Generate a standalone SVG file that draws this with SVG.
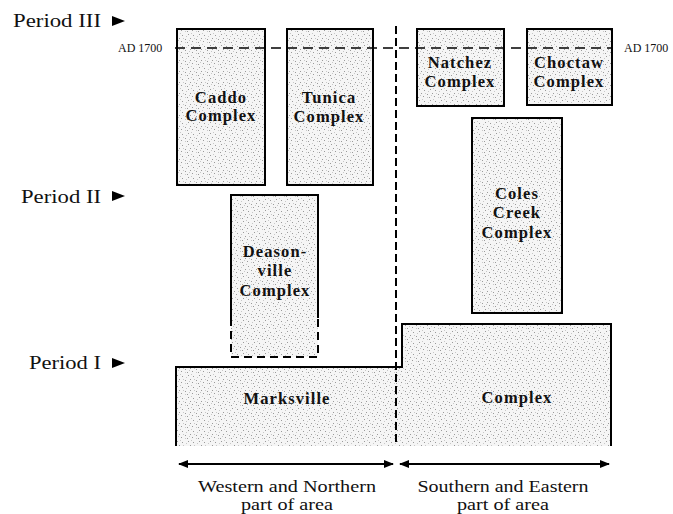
<svg xmlns="http://www.w3.org/2000/svg" width="673" height="514" viewBox="0 0 673 514">
<style>
.box{fill:url(#stip);stroke:#000;stroke-width:2}
.lab{font-family:"Liberation Serif","Times New Roman",serif;font-weight:bold;font-size:16.5px;letter-spacing:1.1px;text-anchor:middle;fill:#111}
.per{font-family:"Liberation Serif","Times New Roman",serif;font-size:19px;fill:#111}
.ad{font-family:"Liberation Serif","Times New Roman",serif;font-size:12px;fill:#111}
.ax{font-family:"Liberation Serif","Times New Roman",serif;font-size:16px;fill:#111;text-anchor:middle}
.dash{stroke:#000;fill:none}
</style>
<defs>
<pattern id="stip" width="11" height="11" patternUnits="userSpaceOnUse">
<rect width="11" height="11" fill="#f5f5f5"/>
<g fill="#9a9a9a">
<rect x="1" y="1" width="1" height="1"/>
<rect x="6" y="2" width="1" height="1"/>
<rect x="3" y="5" width="1" height="1"/>
<rect x="9" y="6" width="1" height="1"/>
<rect x="5" y="8" width="1" height="1"/>
<rect x="0" y="9" width="1" height="1"/>
</g>
<g fill="#c8c8c8">
<rect x="4" y="0" width="1" height="1"/>
<rect x="2" y="7" width="1" height="1"/>
<rect x="7" y="5" width="1" height="1"/>
<rect x="9" y="9" width="1" height="1"/>
<rect x="10" y="3" width="1" height="1"/>
</g>
</pattern>
<marker id="ah" viewBox="0 0 10 8" refX="9" refY="4" markerWidth="10" markerHeight="8" markerUnits="userSpaceOnUse" orient="auto-start-reverse">
<path d="M0,0 L10,4 L0,8 Z" fill="#000"/>
</marker>
<path id="tri" d="M0,-5 L13,0 L0,5 Z" fill="#000"/>
</defs>

<g id="period-labels">
<text class="per" x="13" y="27" textLength="88" lengthAdjust="spacingAndGlyphs">Period III</text>
<use href="#tri" x="112" y="21"/>
<text class="per" x="21" y="203" textLength="80" lengthAdjust="spacingAndGlyphs">Period II</text>
<use href="#tri" x="112" y="196"/>
<text class="per" x="29" y="369" textLength="72" lengthAdjust="spacingAndGlyphs">Period I</text>
<use href="#tri" x="112" y="363"/>
</g>

<g id="caddo">
<rect class="box" x="177" y="29" width="88" height="156"/>
<text class="lab" x="221" y="103">Caddo</text>
<text class="lab" x="221" y="121">Complex</text>
</g>

<g id="tunica">
<rect class="box" x="287" y="29" width="86" height="156"/>
<text class="lab" x="329" y="103">Tunica</text>
<text class="lab" x="329" y="122">Complex</text>
</g>

<g id="natchez">
<rect class="box" x="417" y="29" width="87" height="77"/>
<text class="lab" x="460" y="68">Natchez</text>
<text class="lab" x="460" y="87">Complex</text>
</g>

<g id="choctaw">
<rect class="box" x="527" y="29" width="85" height="76"/>
<text class="lab" x="569" y="68">Choctaw</text>
<text class="lab" x="569" y="87">Complex</text>
</g>

<g id="coles-creek">
<rect class="box" x="472" y="118" width="90" height="195"/>
<text class="lab" x="517" y="199">Coles</text>
<text class="lab" x="517" y="218">Creek</text>
<text class="lab" x="517" y="238">Complex</text>
</g>

<g id="deasonville">
<rect x="231" y="195" width="87" height="162" fill="url(#stip)"/>
<path d="M231,318 V195 H318 V318" fill="none" stroke="#000" stroke-width="2"/>
<path d="M231,318 V357 H318 V318" fill="none" stroke="#000" stroke-width="2" stroke-dasharray="8,5"/>
<text class="lab" x="275" y="257">Deason-</text>
<text class="lab" x="275" y="276">ville</text>
<text class="lab" x="275" y="296">Complex</text>
</g>

<g id="marksville">
<rect x="176" y="367" width="220" height="79" fill="url(#stip)"/>
<path d="M176,446 V367 H396" fill="none" stroke="#000" stroke-width="2"/>
<text class="lab" x="287" y="404">Marksville</text>
</g>

<g id="complex">
<path d="M396,367 H402 V324 H611 V446 H396 Z" fill="url(#stip)"/>
<path d="M396,367 H402 V324 H611 V446" fill="none" stroke="#000" stroke-width="2"/>
<text class="lab" x="517" y="403">Complex</text>
</g>

<g id="connectors">
<line class="dash" x1="175" y1="48" x2="613" y2="48" stroke-width="1.3" stroke-dasharray="10,6"/>
<line class="dash" x1="396" y1="26" x2="396" y2="446" stroke-width="2" stroke-dasharray="8,4"/>
<line x1="179" y1="464" x2="393" y2="464" stroke="#000" stroke-width="1.8" marker-start="url(#ah)" marker-end="url(#ah)"/>
<line x1="400" y1="464" x2="609" y2="464" stroke="#000" stroke-width="1.8" marker-start="url(#ah)" marker-end="url(#ah)"/>
</g>

<g id="annotations">
<text class="ad" x="118" y="52">AD 1700</text>
<text class="ad" x="624" y="52">AD 1700</text>
<text class="ax" x="287" y="492" textLength="178" lengthAdjust="spacingAndGlyphs">Western and Northern</text>
<text class="ax" x="287" y="510" textLength="92" lengthAdjust="spacingAndGlyphs">part of area</text>
<text class="ax" x="503" y="492" textLength="171" lengthAdjust="spacingAndGlyphs">Southern and Eastern</text>
<text class="ax" x="503" y="510" textLength="92" lengthAdjust="spacingAndGlyphs">part of area</text>
</g>
</svg>
